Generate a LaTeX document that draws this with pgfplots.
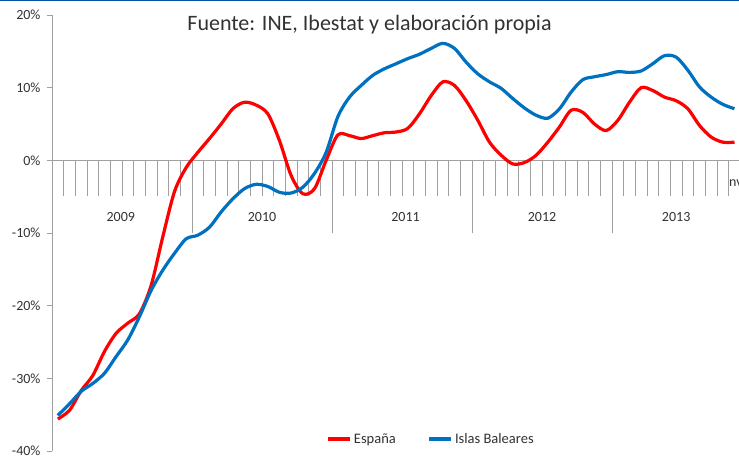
\documentclass[border=0pt]{standalone}
\usepackage{pgfplots}
\pgfplotsset{compat=1.18}
\usepackage{fontspec}
\setmainfont{Carlito}
\definecolor{esp}{RGB}{255,0,0}
\definecolor{bal}{RGB}{0,112,192}
\definecolor{axgray}{RGB}{160,160,160}
\definecolor{txt}{RGB}{50,50,50}
\definecolor{topblue}{RGB}{0,82,165}
\begin{document}
\begin{tikzpicture}
\useasboundingbox (0,0) rectangle (739pt,457pt);
\fill[topblue] (0,456pt) rectangle (739pt,457pt);
\begin{axis}[
  at={(52pt,6pt)}, anchor=south west,
  scale only axis, width=687pt, height=436pt,
  xmin=0, xmax=58.886, ymin=-40, ymax=20,
  axis x line*=middle, axis y line*=left,
  axis line style={axgray, line width=0.8pt},
  every tick/.style={axgray, line width=0.8pt},
  major tick length=36pt,
  xtick={1,...,58}, xticklabels={},
  xtick align=outside,
  extra x ticks={12,24,36,48}, extra x tick labels={},
  extra x tick style={major tick length=73pt},
  ytick=\empty,
  extra y ticks={-40,-30,-20,-10,0,10,20},
  extra y tick labels={-40\%,-30\%,-20\%,-10\%,0\%,10\%,20\%},
  extra y tick style={major tick length=5pt, tick align=outside},
  yticklabel style={font=\fontsize{14}{16}\selectfont, text=txt, xshift=-3pt},
  legend style={draw=none, fill=none, legend columns=2,
    at={(axis description cs:0.552,0.0275)}, anchor=center,
    font=\fontsize{14.5}{16}\selectfont, text=txt,
    /tikz/every even column/.append style={column sep=30pt},
    inner sep=0pt},
  legend image code/.code={\draw[#1] (0pt,0pt) -- (22pt,0pt);},
  legend cell align=left,
  clip=true,
]
\addplot[esp, line width=3.2pt, smooth, tension=0.5] table {
x y
0.5 -35.6
1.5 -34.4
2.5 -31.7
3.5 -29.6
4.5 -26.3
5.5 -23.8
6.5 -22.4
7.5 -21.1
8.5 -17.2
9.5 -10.5
10.5 -4.3
11.5 -1.0
12.5 1.1
13.5 3.0
14.5 5.0
15.5 7.1
16.5 8.0
17.5 7.6
18.5 6.4
19.5 2.7
20.5 -2.1
21.5 -4.6
22.5 -3.9
23.5 0.0
24.5 3.5
25.5 3.4
26.5 3.0
27.5 3.4
28.5 3.8
29.5 3.9
30.5 4.4
31.5 6.4
32.5 8.9
33.5 10.8
34.5 10.3
35.5 8.2
36.5 5.5
37.5 2.5
38.5 0.7
39.5 -0.5
40.5 -0.3
41.5 0.7
42.5 2.5
43.5 4.6
44.5 6.9
45.5 6.6
46.5 5.0
47.5 4.1
48.5 5.5
49.5 8.0
50.5 10.0
51.5 9.6
52.5 8.7
53.5 8.2
54.5 7.1
55.5 4.8
56.5 3.2
57.5 2.5
58.5 2.5
};
\addlegendentry{España}
\addplot[bal, line width=3.2pt, smooth, tension=0.5] table {
x y
0.5 -35.1
1.5 -33.5
2.5 -31.8
3.5 -30.7
4.5 -29.3
5.5 -27.0
6.5 -24.7
7.5 -21.5
8.5 -17.9
9.5 -15.1
10.5 -12.8
11.5 -10.8
12.5 -10.3
13.5 -9.2
14.5 -7.1
15.5 -5.3
16.5 -3.9
17.5 -3.3
18.5 -3.6
19.5 -4.4
20.5 -4.5
21.5 -3.7
22.5 -1.8
23.5 1.1
24.5 6.0
25.5 8.7
26.5 10.3
27.5 11.7
28.5 12.6
29.5 13.3
30.5 14.0
31.5 14.6
32.5 15.4
33.5 16.1
34.5 15.4
35.5 13.5
36.5 11.9
37.5 10.8
38.5 9.9
39.5 8.5
40.5 7.2
41.5 6.2
42.5 5.8
43.5 7.1
44.5 9.4
45.5 11.1
46.5 11.5
47.5 11.8
48.5 12.2
49.5 12.1
50.5 12.3
51.5 13.3
52.5 14.4
53.5 14.2
54.5 12.4
55.5 10.1
56.5 8.7
57.5 7.7
58.5 7.1
};
\addlegendentry{Islas Baleares}
\begin{scope}[every node/.style={font=\fontsize{14}{16}\selectfont, text=txt}]
\node at (axis cs:5.9,-7.8) {2009};
\node at (axis cs:18,-7.8) {2010};
\node at (axis cs:30.3,-7.8) {2011};
\node at (axis cs:42,-7.8) {2012};
\node at (axis cs:53.5,-7.8) {2013};
\node[anchor=west, inner sep=0pt] at (axis cs:58.03,-3.16) {nv};
\end{scope}
\end{axis}
\node[font=\fontsize{22}{26}\selectfont, text=txt] at (369.5pt,432pt) {Fuente: INE, Ibestat y elaboración propia};
\end{tikzpicture}
\end{document}
